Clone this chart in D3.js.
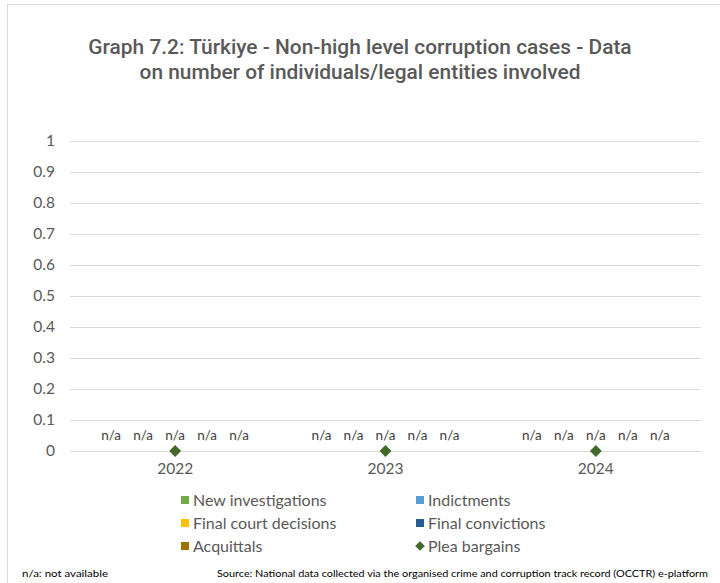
<!doctype html>
<html lang="en">
<head>
  <meta charset="UTF-8">
  <title>Graph 7.2</title>
  <script src="https://d3js.org/d3.v7.min.js"></script>
  <style>
    body { margin: 0; background: #fff; }
  </style>
</head>
<body>
<div id="chart"></div>
<script type="text/javascript">
  // data: every value is zero / not available
  const years = ["2022", "2023", "2024"];
  const barSeries = ["New investigations", "Indictments", "Final court decisions", "Final convictions", "Acquittals"];
  const barValues = [
    [0, 0, 0],
    [0, 0, 0],
    [0, 0, 0],
    [0, 0, 0],
    [0, 0, 0]
  ];
  const barLabels = ["n/a", "n/a", "n/a", "n/a", "n/a"];
  const pleaSeries = "Plea bargains";
  const pleaValues = [0, 0, 0];
  const yTicks = [0, 0.1, 0.2, 0.3, 0.4, 0.5, 0.6, 0.7, 0.8, 0.9, 1];
  const colors = ["#70ad47", "#5b9bd5", "#ffc000", "#255e91", "#9e7000"];
  const pleaColor = "#43682b";

  const width = 720, height = 583;
  const svg = d3.select("#chart").append("svg")
    .attr("width", width)
    .attr("height", height);

  // outer frame
  svg.append("rect")
    .attr("x", 7.5).attr("y", 4.5)
    .attr("width", 730).attr("height", 600)
    .attr("fill", "none")
    .attr("stroke", "#d9d9d9");

  // title
  const title = svg.append("text")
    .attr("text-anchor", "middle")
    .attr("font-family", "Roboto, sans-serif")
    .attr("font-weight", 500)
    .attr("font-size", "20.9px")
    .attr("fill", "#595959");
  title.append("tspan").attr("x", 360).attr("y", 54)
    .text("Graph 7.2: Türkiye - Non-high level corruption cases - Data");
  title.append("tspan").attr("x", 360).attr("y", 79)
    .text("on number of individuals/legal entities involved");

  const plotLeft = 70, plotRight = 701, plotTop = 141, plotBottom = 451;

  const x = d3.scaleBand().domain(years).range([plotLeft, plotRight]);
  const y = d3.scaleLinear().domain([0, 1]).range([plotBottom, plotTop]);
  // five bar slots per year, centred around the year
  const slot = d3.scalePoint().domain(barSeries).range([-64, 64]);
  const barW = 16;

  // gridlines
  svg.append("g").selectAll("line")
    .data(yTicks)
    .enter().append("line")
      .attr("x1", plotLeft).attr("x2", plotRight)
      .attr("y1", d => Math.round(y(d)) + 0.5)
      .attr("y2", d => Math.round(y(d)) + 0.5)
      .attr("stroke", "#d9d9d9")
      .attr("stroke-width", 1);

  // y axis labels
  const yAxis = svg.append("g")
    .attr("transform", "translate(" + plotLeft + ",0)")
    .call(d3.axisLeft(y).tickValues(yTicks).tickFormat(d3.format("~g")).tickSize(0).tickPadding(15));
  yAxis.select(".domain").remove();
  yAxis.selectAll("text")
    .attr("font-family", "Lato, sans-serif")
    .attr("font-size", "15.5px")
    .attr("fill", "#595959");

  // x axis labels
  const xAxis = svg.append("g")
    .attr("transform", "translate(0," + plotBottom + ")")
    .call(d3.axisBottom(x).tickSize(0).tickPadding(12));
  xAxis.select(".domain").remove();
  xAxis.selectAll("text")
    .attr("font-family", "Lato, sans-serif")
    .attr("font-size", "15.5px")
    .attr("fill", "#595959");

  // bars (all zero) and their n/a labels
  barSeries.forEach(function(s, i) {
    const g = svg.append("g");
    g.selectAll("rect")
      .data(barValues[i])
      .enter().append("rect")
        .attr("x", (d, j) => x(years[j]) + x.bandwidth() / 2 + slot(s) - barW / 2)
        .attr("width", barW)
        .attr("y", d => y(d))
        .attr("height", d => y(0) - y(d))
        .attr("fill", colors[i]);
    g.selectAll("text")
      .data(barValues[i])
      .enter().append("text")
        .attr("x", (d, j) => x(years[j]) + x.bandwidth() / 2 + slot(s))
        .attr("y", d => y(d) - 11)
        .attr("text-anchor", "middle")
        .attr("font-family", "Lato, sans-serif")
        .attr("font-size", "13.5px")
        .attr("fill", "#404040")
        .text(barLabels[i]);
  });

  // plea bargains markers
  const diamond = d3.symbol().type(d3.symbolDiamond2).size(90);
  svg.append("g").selectAll("path")
    .data(pleaValues)
    .enter().append("path")
      .attr("d", diamond)
      .attr("transform", (d, j) => "translate(" + (x(years[j]) + x.bandwidth() / 2) + "," + y(d) + ")")
      .attr("fill", pleaColor);

  // legend
  const legendItems = [
    { name: barSeries[0], color: colors[0], col: 0, row: 0 },
    { name: barSeries[1], color: colors[1], col: 1, row: 0 },
    { name: barSeries[2], color: colors[2], col: 0, row: 1 },
    { name: barSeries[3], color: colors[3], col: 1, row: 1 },
    { name: barSeries[4], color: colors[4], col: 0, row: 2 },
    { name: pleaSeries, color: pleaColor, col: 1, row: 2, marker: true }
  ];
  const colX = [181, 416];
  const legend = svg.append("g").selectAll("g")
    .data(legendItems)
    .enter().append("g")
      .attr("transform", d => "translate(" + colX[d.col] + "," + (500 + d.row * 23) + ")");
  legend.filter(d => !d.marker).append("rect")
    .attr("x", 0).attr("y", -4)
    .attr("width", 8).attr("height", 8)
    .attr("fill", d => d.color);
  legend.filter(d => d.marker).append("path")
    .attr("d", d3.symbol().type(d3.symbolDiamond2).size(60))
    .attr("transform", "translate(4,0)")
    .attr("fill", d => d.color);
  legend.append("text")
    .attr("x", 12)
    .attr("dy", "0.35em")
    .attr("font-family", "Lato, sans-serif")
    .attr("font-size", "16px")
    .attr("fill", "#595959")
    .text(d => d.name);

  // footnotes
  svg.append("text")
    .attr("x", 22).attr("y", 577)
    .attr("font-family", "Lato, sans-serif")
    .attr("font-size", "10px")
    .attr("fill", "#000")
    .attr("textLength", 86)
    .attr("lengthAdjust", "spacingAndGlyphs")
    .text("n/a: not available");
  svg.append("text")
    .attr("x", 217).attr("y", 577)
    .attr("font-family", "Lato, sans-serif")
    .attr("font-size", "10px")
    .attr("fill", "#000")
    .attr("textLength", 491)
    .attr("lengthAdjust", "spacingAndGlyphs")
    .text("Source: National data collected via the organised crime and corruption track record (OCCTR) e-platform");
</script>
</body>
</html>
